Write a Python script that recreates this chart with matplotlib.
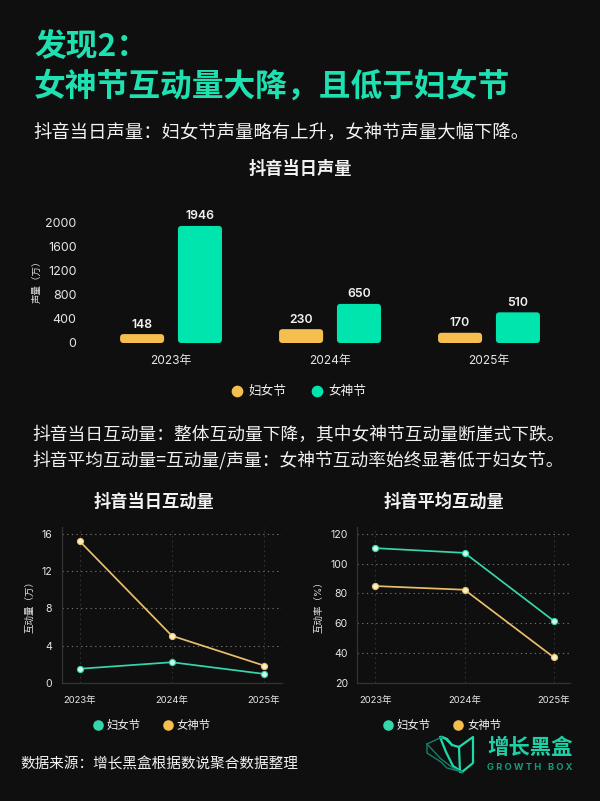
import matplotlib
matplotlib.use("Agg")
import matplotlib.pyplot as plt
from matplotlib.lines import Line2D
from matplotlib.patches import FancyBboxPatch

plt.rcParams['font.family'] = ['Inter', 'Noto Sans CJK SC', 'DejaVu Sans']

W, H = 600, 801
BG = '#0f0f0f'
TITLE = '#1fe0b0'
GREEN = '#00e5ae'
YELLOW = '#f5bf4f'
LINE_GREEN = '#35d6ab'
LINE_YELLOW = '#e9bf6b'
TEXT = '#f2f2f2'
CJK = ['Noto Sans CJK SC', 'DejaVu Sans']

years = ['2023年', '2024年', '2025年']
bar_women = [148, 230, 170]
bar_goddess = [1946, 650, 510]
bar_ticks = [0, 400, 800, 1200, 1600, 2000]

inter_women = [1.5, 2.2, 0.95]
inter_goddess = [15.2, 5.05, 1.85]
inter_ticks = [0, 4, 8, 12, 16]

avg_women = [110.5, 107.3, 61.5]
avg_goddess = [85, 82.5, 37]
avg_ticks = [20, 40, 60, 80, 100, 120]


def px_axes(fig, left, top, right, bottom):
    # axes from pixel edges, top-left origin
    return fig.add_axes([left / W, 1 - bottom / H, (right - left) / W, (bottom - top) / H])


def dot_legend(ax, colors, cx, cy, size, fontsize, pad, spacing):
    labels = ['妇女节', '女神节']
    handles = [Line2D([], [], ls='none', marker='o', ms=size, color=c, label=l) for l, c in zip(labels, colors)]
    ax.legend(handles=handles, ncol=2, frameon=False, loc='center', fontsize=fontsize,
              bbox_to_anchor=(cx / W, 1 - cy / H), bbox_transform=ax.figure.transFigure,
              handlelength=1, columnspacing=spacing, handletextpad=pad, labelcolor=TEXT)


def line_chart(ax, women, goddess, ticks, ylabel, ylim, xlim, pad_label):
    ax.set_facecolor('none')
    x = range(len(years))
    ax.set_xlim(*xlim)
    ax.set_ylim(*ylim)
    ax.grid(axis='y', color='#707070', ls=(0, (1.2, 3)), lw=0.8)
    ax.grid(axis='x', color='#303030', ls=(0, (2, 3)), lw=0.7)
    ax.set_axisbelow(True)
    ax.plot(x, women, color=LINE_GREEN, lw=1.25, marker='o', ms=4.4, mfc='#c8f8ea', mec=LINE_GREEN, mew=0.8, clip_on=False)
    ax.plot(x, goddess, color=LINE_YELLOW, lw=1.25, marker='o', ms=4.4, mfc='#fbeec2', mec=LINE_YELLOW, mew=0.8, clip_on=False)
    ax.set_xticks(list(x), years)
    ax.set_yticks(ticks)
    ax.tick_params(length=0, labelsize=6.8, colors='#e6e6e6')
    ax.tick_params(axis='y', labelsize=7.6, pad=6.8)
    ax.tick_params(axis='x', pad=9.5)
    for s in ['top', 'right']:
        ax.spines[s].set_visible(False)
    for s in ['left', 'bottom']:
        ax.spines[s].set_color('#333333')
        ax.spines[s].set_linewidth(0.9)
    ax.set_ylabel(ylabel, fontsize=6.8, color='#e0e0e0', labelpad=pad_label)


fig = plt.figure(figsize=(W / 100, H / 100), dpi=100, facecolor=BG)

# page overlay in pixel coordinates
page = fig.add_axes([0, 0, 1, 1], zorder=0)
page.set_xlim(0, W)
page.set_ylim(H, 0)
page.axis('off')
page.text(34, 47, '发现2：', color=TITLE, fontsize=22.9, fontweight='bold', va='center', family=CJK)
page.text(34, 86.5, '女神节互动量大降，且低于妇女节', color=TITLE, fontsize=22.9, fontweight='bold', va='center', family=CJK)
page.text(33, 134, '抖音当日声量：妇女节声量略有上升，女神节声量大幅下降。', color=TEXT, fontsize=13.2, va='center', family=CJK)
page.text(300, 169, '抖音当日声量', color=TEXT, fontsize=12.4, fontweight='bold', va='center', ha='center', family=CJK)
page.text(32, 434.5, '抖音当日互动量：整体互动量下降，其中女神节互动量断崖式下跌。', color=TEXT, fontsize=12.75, va='center', family=CJK)
page.text(32, 460.5, '抖音平均互动量=互动量/声量：女神节互动率始终显著低于妇女节。', color=TEXT, fontsize=12.75, va='center', family=CJK)
page.text(153.5, 502, '抖音当日互动量', color=TEXT, fontsize=12.4, fontweight='bold', va='center', ha='center', family=CJK)
page.text(443.5, 502, '抖音平均互动量', color=TEXT, fontsize=12.4, fontweight='bold', va='center', ha='center', family=CJK)
page.text(20, 764, '数据来源：增长黑盒根据数说聚合数据整理', color=TEXT, fontsize=10.5, va='center', family=CJK)

# logo outline
logo_bright = [
    ([442, 446, 452, 459, 473, 473, 462, 460, 459], [737, 739, 745, 747, 737, 763, 772, 772, 747]),
    ([452, 447, 442, 440, 446, 453, 462], [745, 739, 737, 737, 752, 766, 772]),
]
logo_dim = [
    ([442, 427], [737, 744]),
    ([427, 441, 453, 462], [744, 759, 768, 772]),
    ([427, 427, 441, 447, 462], [744, 753, 762, 768, 772]),
]
for xs, ys in logo_bright:
    page.plot(xs, ys, color='#1fd9ac', lw=1.6, solid_joinstyle='round')
for xs, ys in logo_dim:
    page.plot(xs, ys, color='#14806a', lw=1.0)
page.text(487, 748, '增长黑盒', color='#1fd0a6', fontsize=15.4, fontweight='bold', va='center', family=CJK)
page.text(487, 767, 'G R O W T H   B O X', color='#159a7e', fontsize=6.7, fontweight='bold', va='center')

# bar chart
ax1 = px_axes(fig, 96, 215, 565, 343)
ax1.set_facecolor('none')
ax1.set_xlim(-0.472, 2.478)
ax1.set_ylim(0, 2000 * 128 / 120.3)
bar_w = 0.277
off = 0.182
pos = list(range(len(years)))
y_per_x = (2000 * 128 / 120.3) / 128 * 159
for vals, sign, col in [(bar_women, -1, YELLOW), (bar_goddess, 1, GREEN)]:
    bars = ax1.bar([p + sign * off for p in pos], vals, width=bar_w, color=col)
    for b, v in zip(bars, vals):
        # swap the square bar for a rounded one of the same size
        b.set_visible(False)
        ax1.add_patch(FancyBboxPatch((b.get_x(), 0), b.get_width(), v, boxstyle='round,pad=0,rounding_size=0.022',
                                     mutation_aspect=y_per_x, fc=col, ec='none'))
        ax1.text(b.get_x() + bar_w / 2, v + 58, str(v), ha='center', va='bottom', color=TEXT, fontsize=8.8, fontweight='semibold')
ax1.set_xticks(pos, years)
ax1.set_yticks(bar_ticks)
ax1.tick_params(length=0, labelsize=9, colors='#e6e6e6')
ax1.tick_params(axis='y', pad=14)
ax1.tick_params(axis='x', labelsize=8.6, pad=9)
for s in ax1.spines.values():
    s.set_visible(False)
ax1.set_ylabel('声量（万）', fontsize=6.8, color='#e0e0e0', labelpad=3)
dot_legend(ax1, [YELLOW, GREEN], 298.5, 392, 7.4, 9.1, 0.37, 1.95)

# line charts
ax2 = px_axes(fig, 61.7, 527, 281.7, 682.7)
line_chart(ax2, inter_women, inter_goddess, inter_ticks, '互动量（万）', (0, 16 * 155.7 / 148.7), (-0.198, 2.195), 5)
dot_legend(ax2, [LINE_GREEN, YELLOW], 151.6, 725, 6.6, 8.2, 0.29, 1.87)

ax3 = px_axes(fig, 357.3, 527, 570, 682.7)
line_chart(ax3, avg_women, avg_goddess, avg_ticks, '互动率（%）', (20, 20 + 100 * 155.7 / 148.7), (-0.2, 2.18), 5)
dot_legend(ax3, [LINE_GREEN, YELLOW], 441.7, 725, 6.6, 8.2, 0.29, 1.87)

fig.savefig('out.png', dpi=100, facecolor=BG)
